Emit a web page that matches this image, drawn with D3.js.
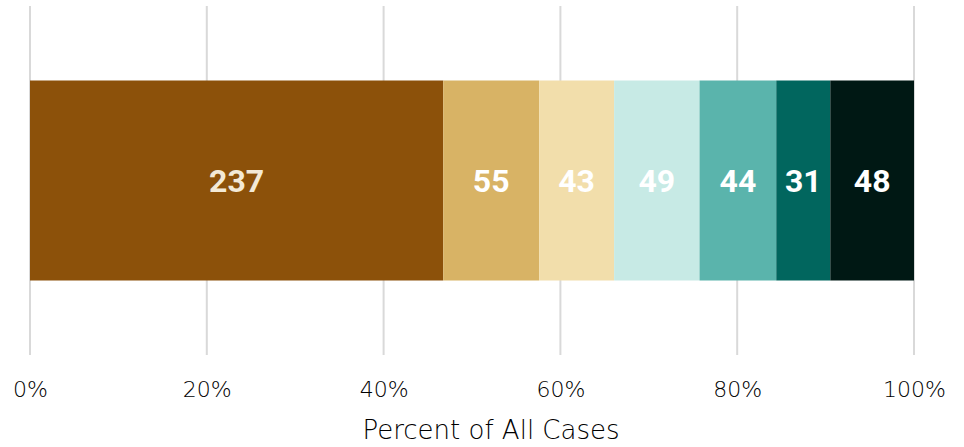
<!DOCTYPE html>
<html>
<head>
<meta charset="utf-8">
<script src="https://cdn.jsdelivr.net/npm/d3@7"></script>
<style>
  body { margin: 0; background: #fff; }
  svg { display: block; }
</style>
</head>
<body>
<div id="chart"></div>
<script>
const categories = ['c1', 'c2', 'c3', 'c4', 'c5', 'c6', 'c7'];
const counts = [237, 55, 43, 49, 44, 31, 48];
const colors = ['#8c510a', '#d8b365', '#f2deab', '#c7eae5', '#5ab4ac', '#01665e', '#001814'];
const labelColors = ['#f3e9d6', '#fff', '#fff', '#fff', '#fff', '#fff', '#fff'];
const tickValues = [0, 0.2, 0.4, 0.6, 0.8, 1];

const width = 964, height = 447;
const margin = { top: 6, right: 50, bottom: 92, left: 30 };
const total = d3.sum(counts);

const svg = d3.select('#chart').append('svg')
  .attr('width', width)
  .attr('height', height);

const g = svg.append('g').attr('transform', `translate(${margin.left}, ${margin.top})`);
const innerW = width - margin.left - margin.right;
const innerH = height - margin.top - margin.bottom;

let x = d3.scaleLinear().domain([0, 1]).range([0, innerW]);
let y = d3.scaleBand().domain(['all']).range([0, innerH]).paddingInner(0).paddingOuter(0.3725);

// gridlines
g.selectAll('.grid')
  .data(tickValues)
  .enter().append('line')
  .attr('x1', d => x(d)).attr('x2', d => x(d))
  .attr('y1', 0).attr('y2', innerH)
  .attr('stroke', '#d9d9d9')
  .attr('stroke-width', 2);

// stacked segments
let cum = 0;
const segs = counts.map((v, i) => {
  const s = { key: categories[i], value: v, x0: cum / total, x1: (cum + v) / total, i };
  cum += v;
  return s;
});

g.selectAll('.seg')
  .data(segs)
  .enter().append('rect')
  .attr('x', d => x(d.x0))
  .attr('width', d => x(d.x1) - x(d.x0))
  .attr('y', y('all'))
  .attr('height', y.bandwidth())
  .attr('fill', d => colors[d.i]);

g.selectAll('.lbl')
  .data(segs)
  .enter().append('text')
  .attr('x', d => (x(d.x0) + x(d.x1)) / 2)
  .attr('y', y('all') + y.bandwidth() / 2)
  .attr('dy', '0.36em')
  .attr('text-anchor', 'middle')
  .attr('font-family', 'Roboto, sans-serif')
  .attr('font-weight', 'bold')
  .attr('font-size', 32)
  .attr('fill', d => labelColors[d.i])
  .text(d => d.value);

// axis
let xAxis = d3.axisBottom(x).tickValues(tickValues).tickFormat(d3.format('.0%')).tickSize(0).tickPadding(26);
const ax = g.append('g').attr('transform', `translate(0, ${innerH})`).call(xAxis);
ax.select('.domain').remove();
ax.selectAll('text')
  .attr('font-family', 'DejaVu Sans, sans-serif')
  .attr('font-weight', 200)
  .attr('font-size', 22)
  .attr('fill', '#000');

svg.append('text')
  .attr('x', 491)
  .attr('y', margin.top + innerH + 84)
  .attr('text-anchor', 'middle')
  .attr('font-family', 'DejaVu Sans, sans-serif')
  .attr('font-weight', 200)
  .attr('font-size', 26)
  .attr('fill', '#000')
  .text('Percent of All Cases');
</script>
</body>
</html>
